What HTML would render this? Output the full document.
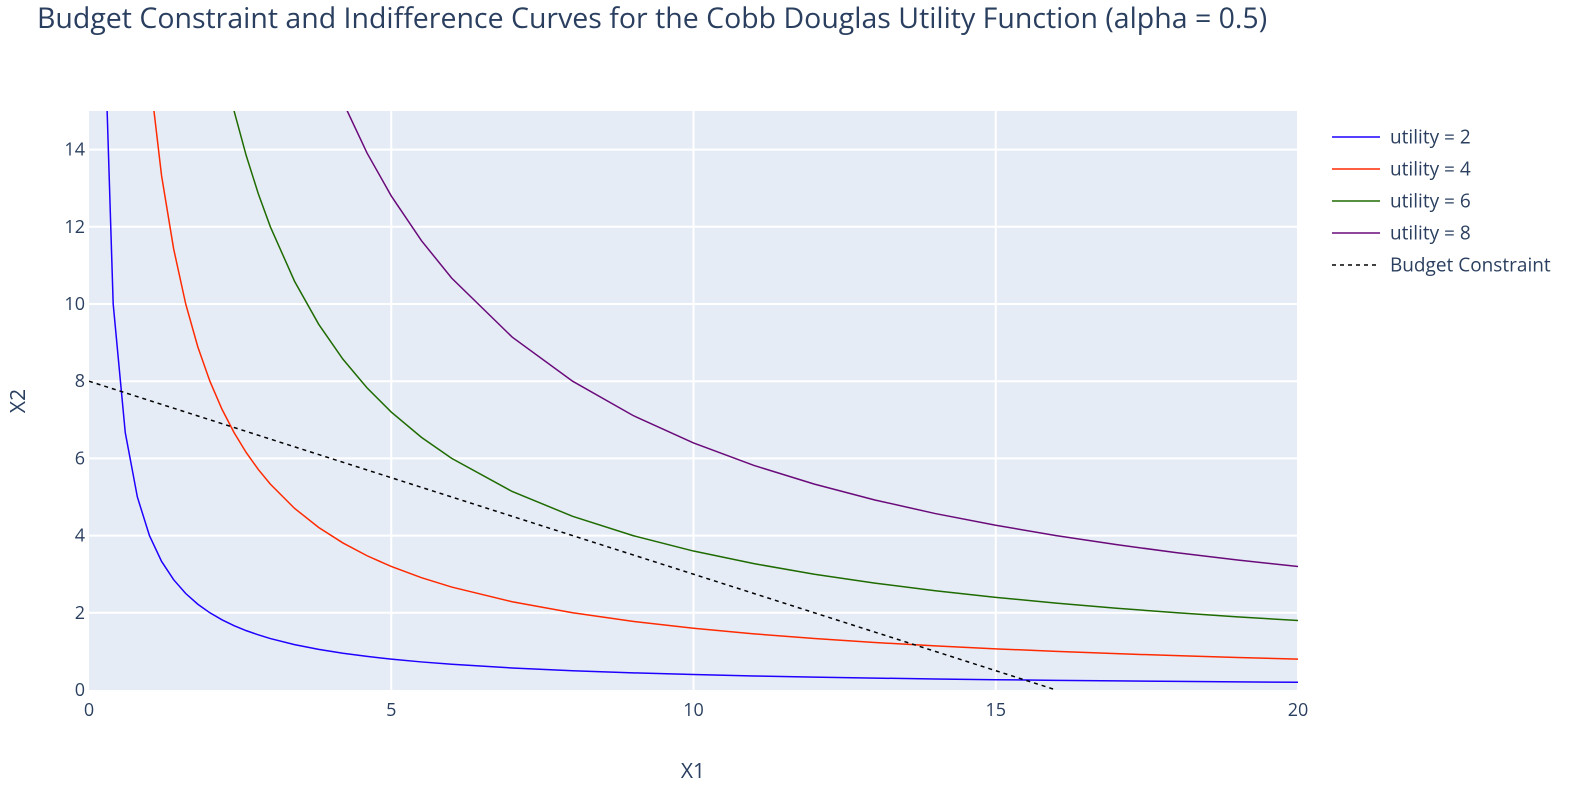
<!DOCTYPE html>
<html><head><meta charset="utf-8"><style>
body{margin:0;background:#fff;font-family:"Open Sans","Liberation Sans",sans-serif;}
svg text{font-family:"Open Sans","Liberation Sans",sans-serif;fill:#2a3f5f;}
</style></head><body>
<svg id="chart" width="1577" height="787" xmlns="http://www.w3.org/2000/svg">
<defs><clipPath id="pc"><rect x="89" y="111" width="1209" height="579"/></clipPath></defs>
<text x="37" y="28" font-size="28.5">Budget Constraint and Indifference Curves for the Cobb Douglas Utility Function (alpha = 0.5)</text>
<rect x="89" y="111" width="1209" height="579" fill="#e5ecf6"/>
<g id="grid"></g>
<g id="series" clip-path="url(#pc)"></g>
<g id="ticks"></g>
<text x="693" y="778" font-size="21" text-anchor="middle">X1</text>
<text transform="translate(25,401) rotate(-90)" font-size="21" text-anchor="middle">X2</text>
<g id="legend"></g>
</svg>
<script>
const xs=[0.2,0.4,0.6,0.8,1.0,1.2,1.4,1.6,1.8,2.0,2.2,2.4,2.6,2.8,3.0,3.4,3.8,4.2,4.6,5.0,5.5,6,7,8,9,10,11,12,13,14,15,16,17,18,19,20];
const u2=[20,10,6.667,5,4,3.333,2.857,2.5,2.222,2,1.818,1.667,1.538,1.429,1.333,1.176,1.053,0.952,0.870,0.8,0.727,0.667,0.571,0.5,0.444,0.4,0.364,0.333,0.308,0.286,0.267,0.25,0.235,0.222,0.211,0.2];
const u4=[80,40,26.67,20,16,13.33,11.43,10,8.889,8,7.273,6.667,6.154,5.714,5.333,4.706,4.211,3.810,3.478,3.2,2.909,2.667,2.286,2,1.778,1.6,1.455,1.333,1.231,1.143,1.067,1,0.941,0.889,0.842,0.8];
const u6=[180,90,60,45,36,30,25.71,22.5,20,18,16.36,15,13.85,12.86,12,10.59,9.474,8.571,7.826,7.2,6.545,6,5.143,4.5,4,3.6,3.273,3,2.769,2.571,2.4,2.25,2.118,2,1.895,1.8];
const u8=[320,160,106.7,80,64,53.33,45.71,40,35.56,32,29.09,26.67,24.62,22.86,21.33,18.82,16.84,15.24,13.91,12.8,11.64,10.67,9.143,8,7.111,6.4,5.818,5.333,4.923,4.571,4.267,4,3.765,3.556,3.368,3.2];
const budgetX=[0,16];
const budgetY=[8,0];
const xTicks=[0,5,10,15,20];
const yTicks=[0,2,4,6,8,10,12,14];
const names=["utility = 2","utility = 4","utility = 6","utility = 8","Budget Constraint"];
const NS="http://www.w3.org/2000/svg";
const X=v=>89+v*(1209/20), Y=v=>690-v*(579/15);
function mk(t,a,p){const e=document.createElementNS(NS,t);for(const k in a)e.setAttribute(k,a[k]);p.appendChild(e);return e;}
const grid=document.getElementById('grid'),ticks=document.getElementById('ticks');
xTicks.forEach(t=>{if(t>0){const l=mk('line',{x1:X(t),x2:X(t),y1:111,y2:690,stroke:'#fff','stroke-width':2},grid);}
const tx=mk('text',{x:X(t),y:716,'font-size':18,'text-anchor':'middle'},ticks);tx.textContent=t;});
yTicks.forEach(t=>{if(t>0){const l=mk('line',{x1:89,x2:1298,y1:Y(t),y2:Y(t),stroke:'#fff','stroke-width':2},grid);}
const tx=mk('text',{x:85,y:Y(t)+6,'font-size':18,'text-anchor':'end'},ticks);tx.textContent=t;});
const ser=document.getElementById('series');
const cols=['#1f00ff','#ff2a00','#1f6b00','#6a0a7a','#000'];
[u2,u4,u6,u8].forEach((ys,i)=>{const p=mk('polyline',{points:xs.map((x,j)=>X(x)+','+Y(ys[j])).join(' '),fill:'none',stroke:cols[i],'stroke-width':1.5},ser);
});
const b=mk('polyline',{points:budgetX.map((x,j)=>X(x)+','+Y(budgetY[j])).join(' '),fill:'none',stroke:'#000','stroke-width':1.5,'stroke-dasharray':'4,4'},ser);

const lg=document.getElementById('legend');
names.forEach((n,i)=>{const y=137+i*32;const g=mk('g',{},lg);
mk('line',{x1:1332,x2:1380,y1:y,y2:y,stroke:cols[i],'stroke-width':1.5,'stroke-dasharray':i==4?'4,4':'none'},g);
const t=mk('text',{x:1390,y:y+6.5,'font-size':19},g);t.textContent=n;});
</script>
</body></html>
